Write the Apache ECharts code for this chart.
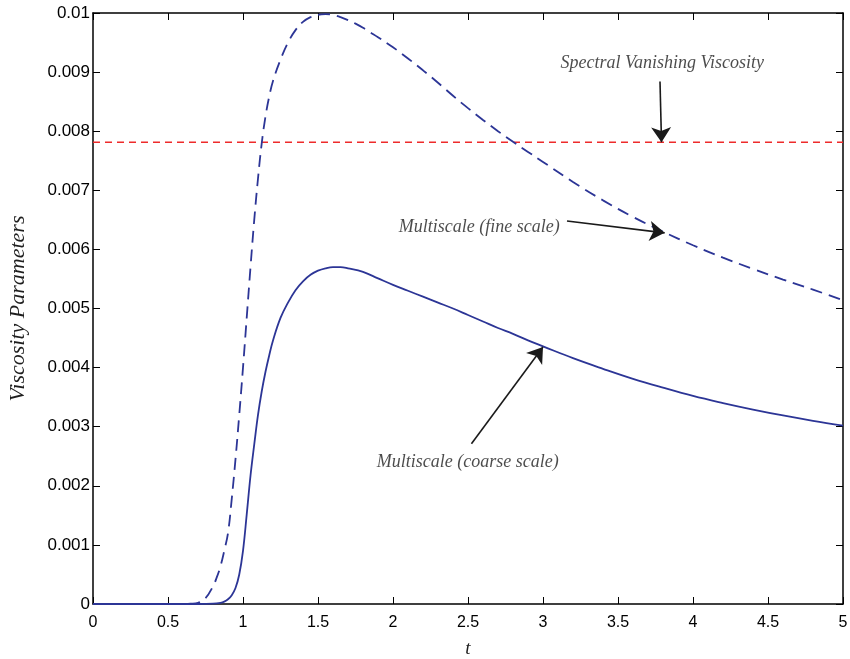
<!DOCTYPE html>
<html>
<head>
<meta charset="utf-8">
<script src="https://cdn.jsdelivr.net/npm/echarts@6/dist/echarts.min.js"></script>
<style>
html,body{margin:0;padding:0;background:#fff;}
#chart{width:850px;height:659px;}
</style>
</head>
<body>
<div id="chart"></div>
<script>
// ---- data ----
const xTicks = [0, 0.5, 1, 1.5, 2, 2.5, 3, 3.5, 4, 4.5, 5];
const yTicks = [0, 0.001, 0.002, 0.003, 0.004, 0.005, 0.006, 0.007, 0.008, 0.009, 0.01];

const fineT = [0, 0.5, 0.6, 0.65, 0.7, 0.75, 0.8, 0.825, 0.85, 0.875, 0.9, 0.925, 0.95, 0.975, 1.0, 1.025, 1.05, 1.075, 1.1, 1.125, 1.15, 1.175, 1.2, 1.25, 1.3, 1.35, 1.4, 1.45, 1.5, 1.55, 1.6, 1.65, 1.7, 1.75, 1.8, 1.85, 1.9, 2.0, 2.1, 2.2, 2.3, 2.4, 2.5, 2.6, 2.7, 2.8, 2.9, 3.0, 3.2, 3.4, 3.6, 3.8, 4.0, 4.2, 4.4, 4.6, 4.8, 5.0];
const fineV = [0, 0, 0, 0.000005, 0.00002, 0.0001, 0.0003, 0.00045, 0.00064, 0.0009, 0.0012, 0.00178, 0.00245, 0.0032, 0.004, 0.00485, 0.0057, 0.0065, 0.0072, 0.0078, 0.00825, 0.00859, 0.00885, 0.00921, 0.0095, 0.00971, 0.00985, 0.00993, 0.00997, 0.00998, 0.00997, 0.00993, 0.00988, 0.00982, 0.00975, 0.00967, 0.00959, 0.00942, 0.00923, 0.00903, 0.00882, 0.0086, 0.00839, 0.00819, 0.008, 0.00782, 0.00765, 0.00748, 0.00714, 0.00683, 0.00655, 0.0063, 0.00607, 0.00586, 0.00567, 0.00549, 0.00532, 0.00514];

const coarseT = [0, 0.5, 0.7, 0.8, 0.85, 0.875, 0.9, 0.925, 0.95, 0.975, 1.0, 1.025, 1.05, 1.075, 1.1, 1.125, 1.15, 1.175, 1.2, 1.25, 1.3, 1.35, 1.4, 1.45, 1.5, 1.55, 1.6, 1.65, 1.7, 1.8, 1.9, 2.0, 2.1, 2.2, 2.3, 2.4, 2.5, 2.6, 2.7, 2.8, 2.9, 3.0, 3.2, 3.4, 3.6, 3.8, 4.0, 4.2, 4.4, 4.6, 4.8, 5.0];
const coarseV = [0, 0, 0, 0.000005, 0.00002, 0.00004, 0.00008, 0.00015, 0.00027, 0.0005, 0.0009, 0.00152, 0.00217, 0.0027, 0.0032, 0.0036, 0.00393, 0.00421, 0.00446, 0.00484, 0.0051, 0.00531, 0.00546, 0.00557, 0.00564, 0.00568, 0.0057, 0.0057, 0.00568, 0.00562, 0.00551, 0.0054, 0.0053, 0.0052, 0.0051, 0.005, 0.00489, 0.00478, 0.00467, 0.00457, 0.00446, 0.00436, 0.00416, 0.00398, 0.00381, 0.00366, 0.00352, 0.0034, 0.00329, 0.00319, 0.0031, 0.00302];

const svvT = [0, 5];
const svvV = [0.0078125, 0.0078125];

const annTexts = ['Spectral Vanishing Viscosity', 'Multiscale (fine scale)', 'Multiscale (coarse scale)'];
const annPos = [[3.795, 0.00915], [2.575, 0.00638], [2.498, 0.0024]];
const arrowFrom = [[3.78, 0.00884], [3.16, 0.00648], [2.523, 0.00271]];
const arrowTo = [[3.79, 0.0078125], [3.811, 0.00628], [3.0, 0.00435]];

// ---- chart ----
const zip = (a, b) => a.map((v, i) => [v, b[i]]);
const chart = echarts.init(document.getElementById('chart'), null, {renderer: 'canvas'});

const tickFont = {fontFamily: 'Liberation Sans, Arial, sans-serif', fontSize: 16, color: '#000'};
const serifItalic = {fontFamily: 'Liberation Serif, Times New Roman, serif', fontStyle: 'italic', color: '#1e1e1e'};
const axisLineStyle = {color: '#000', width: 1.5};

const xBase = {
  type: 'value', min: 0, max: 5, interval: 0.5,
  axisLine: {show: true, onZero: false, lineStyle: axisLineStyle},
  axisTick: {show: true, inside: true, length: 7, lineStyle: {color: '#000', width: 1}},
  splitLine: {show: false}
};
const yBase = {
  type: 'value', min: 0, max: 0.01, interval: 0.001,
  axisLine: {show: true, onZero: false, lineStyle: axisLineStyle},
  axisTick: {show: true, inside: true, length: 7, lineStyle: {color: '#000', width: 1}},
  splitLine: {show: false}
};

chart.setOption({
  animation: false,
  backgroundColor: '#fff',
  grid: {left: 93, right: 7, top: 13, bottom: 55, containLabel: false, outerBoundsMode: 'none'},
  xAxis: [
    Object.assign({}, xBase, {
      position: 'bottom',
      name: 't', nameLocation: 'middle', nameGap: 35,
      nameTextStyle: Object.assign({fontSize: 19}, serifItalic),
      axisLabel: Object.assign({margin: 11, formatter: v => String(xTicks.find(t => Math.abs(t - v) < 1e-9) ?? v)}, tickFont)
    }),
    Object.assign({}, xBase, {position: 'top', axisLabel: {show: false}})
  ],
  yAxis: [
    Object.assign({}, yBase, {
      position: 'left',
      name: 'Viscosity Parameters', nameLocation: 'middle', nameGap: 64,
      nameTextStyle: Object.assign({fontSize: 22}, serifItalic),
      axisLabel: Object.assign({margin: 3, formatter: v => {
        const t = yTicks.find(t => Math.abs(t - v) < 1e-12);
        return t === 0 ? '0' : String(t ?? v);
      }}, tickFont, {fontSize: 17})
    }),
    Object.assign({}, yBase, {position: 'right', axisLabel: {show: false}})
  ],
  series: [
    {
      name: 'Spectral Vanishing Viscosity', type: 'line', data: zip(svvT, svvV),
      showSymbol: false, symbol: 'none', silent: true,
      lineStyle: {color: '#ee2b2b', width: 1.6, type: [7, 5]}
    },
    {
      name: 'Multiscale (fine scale)', type: 'line', data: zip(fineT, fineV),
      smooth: 0.4, showSymbol: false, symbol: 'none', silent: true,
      lineStyle: {color: '#2c3596', width: 1.8, type: [12, 7]}
    },
    {
      name: 'Multiscale (coarse scale)', type: 'line', data: zip(coarseT, coarseV),
      smooth: 0.4, showSymbol: false, symbol: 'none', silent: true,
      lineStyle: {color: '#2c3596', width: 1.8, type: 'solid'},
      markLine: {
        silent: true, animation: false,
        symbol: ['none', 'arrow'], symbolSize: 15,
        label: {show: false},
        lineStyle: {color: '#1a1a1a', width: 1.6, type: 'solid'},
        emphasis: {disabled: true},
        data: arrowFrom.map((f, i) => [{coord: f}, {coord: arrowTo[i]}])
      }
    },
    {
      name: 'annotations', type: 'scatter', silent: true,
      symbolSize: 1, itemStyle: {color: 'rgba(0,0,0,0)'},
      data: annPos.map((p, i) => ({value: p, name: annTexts[i]})),
      label: Object.assign({show: true, position: 'inside', formatter: p => p.name, fontSize: 18}, serifItalic)
    }
  ]
});
</script>
</body>
</html>
